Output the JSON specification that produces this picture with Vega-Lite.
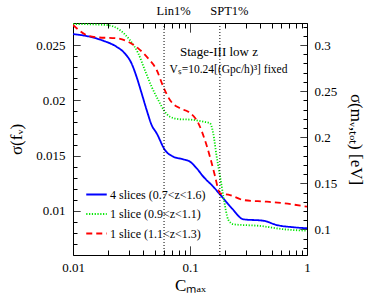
{
  "$schema": "https://vega.github.io/schema/vega-lite/v6.json",
  "width": 234,
  "height": 232,
  "autosize": {"type": "none"},
  "padding": {"left": 73, "top": 23, "right": 67, "bottom": 47},
  "background": "white",
  "config": {
    "view": {"stroke": "black", "strokeWidth": 1},
    "font": "Liberation Serif",
    "axis": {
      "domain": false,
      "grid": false,
      "tickColor": "black",
      "tickWidth": 1,
      "labelColor": "black",
      "labelFont": "Liberation Serif",
      "labelFontSize": 13,
      "titleColor": "black",
      "titleFont": "Liberation Serif",
      "titleFontWeight": "normal",
      "titleFontSize": 17,
      "labelFlush": false,
      "labelOverlap": false
    }
  },
  "datasets": {
    "curves": [
      {"series": "4 slices (0.7<z<1.6)", "C": 0.01, "f": 0.02599},
      {"series": "4 slices (0.7<z<1.6)", "C": 0.0139, "f": 0.02575},
      {"series": "4 slices (0.7<z<1.6)", "C": 0.0181, "f": 0.02539},
      {"series": "4 slices (0.7<z<1.6)", "C": 0.0235, "f": 0.02485},
      {"series": "4 slices (0.7<z<1.6)", "C": 0.0277, "f": 0.02425},
      {"series": "4 slices (0.7<z<1.6)", "C": 0.0316, "f": 0.02335},
      {"series": "4 slices (0.7<z<1.6)", "C": 0.0349, "f": 0.02214},
      {"series": "4 slices (0.7<z<1.6)", "C": 0.0386, "f": 0.02064},
      {"series": "4 slices (0.7<z<1.6)", "C": 0.0426, "f": 0.01913},
      {"series": "4 slices (0.7<z<1.6)", "C": 0.047, "f": 0.01777},
      {"series": "4 slices (0.7<z<1.6)", "C": 0.0519, "f": 0.01702},
      {"series": "4 slices (0.7<z<1.6)", "C": 0.0611, "f": 0.01551},
      {"series": "4 slices (0.7<z<1.6)", "C": 0.0719, "f": 0.01491},
      {"series": "4 slices (0.7<z<1.6)", "C": 0.0877, "f": 0.01467},
      {"series": "4 slices (0.7<z<1.6)", "C": 0.1, "f": 0.01446},
      {"series": "4 slices (0.7<z<1.6)", "C": 0.114, "f": 0.01386},
      {"series": "4 slices (0.7<z<1.6)", "C": 0.13, "f": 0.0131},
      {"series": "4 slices (0.7<z<1.6)", "C": 0.158, "f": 0.0122},
      {"series": "4 slices (0.7<z<1.6)", "C": 0.187, "f": 0.0113},
      {"series": "4 slices (0.7<z<1.6)", "C": 0.228, "f": 0.01024},
      {"series": "4 slices (0.7<z<1.6)", "C": 0.286, "f": 0.00925},
      {"series": "4 slices (0.7<z<1.6)", "C": 0.425, "f": 0.00912},
      {"series": "4 slices (0.7<z<1.6)", "C": 0.553, "f": 0.00873},
      {"series": "4 slices (0.7<z<1.6)", "C": 0.767, "f": 0.00853},
      {"series": "4 slices (0.7<z<1.6)", "C": 1.0, "f": 0.00844},
      {"series": "1 slice (0.9<z<1.1)", "C": 0.01, "f": 0.0269},
      {"series": "1 slice (0.9<z<1.1)", "C": 0.0193, "f": 0.02681},
      {"series": "1 slice (0.9<z<1.1)", "C": 0.0251, "f": 0.02636},
      {"series": "1 slice (0.9<z<1.1)", "C": 0.0306, "f": 0.02545},
      {"series": "1 slice (0.9<z<1.1)", "C": 0.0361, "f": 0.02425},
      {"series": "1 slice (0.9<z<1.1)", "C": 0.0411, "f": 0.02274},
      {"series": "1 slice (0.9<z<1.1)", "C": 0.047, "f": 0.02123},
      {"series": "1 slice (0.9<z<1.1)", "C": 0.0535, "f": 0.02003},
      {"series": "1 slice (0.9<z<1.1)", "C": 0.0611, "f": 0.01897},
      {"series": "1 slice (0.9<z<1.1)", "C": 0.0674, "f": 0.01852},
      {"series": "1 slice (0.9<z<1.1)", "C": 0.082, "f": 0.01829},
      {"series": "1 slice (0.9<z<1.1)", "C": 0.1, "f": 0.01826},
      {"series": "1 slice (0.9<z<1.1)", "C": 0.13, "f": 0.01807},
      {"series": "1 slice (0.9<z<1.1)", "C": 0.148, "f": 0.01793},
      {"series": "1 slice (0.9<z<1.1)", "C": 0.158, "f": 0.01702},
      {"series": "1 slice (0.9<z<1.1)", "C": 0.169, "f": 0.01491},
      {"series": "1 slice (0.9<z<1.1)", "C": 0.181, "f": 0.0131},
      {"series": "1 slice (0.9<z<1.1)", "C": 0.193, "f": 0.01129},
      {"series": "1 slice (0.9<z<1.1)", "C": 0.213, "f": 0.00919},
      {"series": "1 slice (0.9<z<1.1)", "C": 0.235, "f": 0.0088},
      {"series": "1 slice (0.9<z<1.1)", "C": 0.398, "f": 0.00865},
      {"series": "1 slice (0.9<z<1.1)", "C": 0.631, "f": 0.00835},
      {"series": "1 slice (0.9<z<1.1)", "C": 1.0, "f": 0.00822},
      {"series": "1 slice (1.1<z<1.3)", "C": 0.01, "f": 0.02681},
      {"series": "1 slice (1.1<z<1.3)", "C": 0.013, "f": 0.0259},
      {"series": "1 slice (1.1<z<1.3)", "C": 0.0158, "f": 0.0257},
      {"series": "1 slice (1.1<z<1.3)", "C": 0.0235, "f": 0.02561},
      {"series": "1 slice (1.1<z<1.3)", "C": 0.0296, "f": 0.0253},
      {"series": "1 slice (1.1<z<1.3)", "C": 0.0361, "f": 0.0247},
      {"series": "1 slice (1.1<z<1.3)", "C": 0.0439, "f": 0.02379},
      {"series": "1 slice (1.1<z<1.3)", "C": 0.0519, "f": 0.02274},
      {"series": "1 slice (1.1<z<1.3)", "C": 0.0591, "f": 0.02123},
      {"series": "1 slice (1.1<z<1.3)", "C": 0.0674, "f": 0.02003},
      {"series": "1 slice (1.1<z<1.3)", "C": 0.082, "f": 0.01928},
      {"series": "1 slice (1.1<z<1.3)", "C": 0.0967, "f": 0.01897},
      {"series": "1 slice (1.1<z<1.3)", "C": 0.118, "f": 0.01792},
      {"series": "1 slice (1.1<z<1.3)", "C": 0.134, "f": 0.01642},
      {"series": "1 slice (1.1<z<1.3)", "C": 0.148, "f": 0.01491},
      {"series": "1 slice (1.1<z<1.3)", "C": 0.164, "f": 0.0131},
      {"series": "1 slice (1.1<z<1.3)", "C": 0.175, "f": 0.0119},
      {"series": "1 slice (1.1<z<1.3)", "C": 0.181, "f": 0.0116},
      {"series": "1 slice (1.1<z<1.3)", "C": 0.22, "f": 0.01144},
      {"series": "1 slice (1.1<z<1.3)", "C": 0.286, "f": 0.01099},
      {"series": "1 slice (1.1<z<1.3)", "C": 0.454, "f": 0.01084},
      {"series": "1 slice (1.1<z<1.3)", "C": 0.631, "f": 0.0107},
      {"series": "1 slice (1.1<z<1.3)", "C": 1.0, "f": 0.01039}
    ],
    "refs": [
      {"name": "Lin1%", "C": 0.06},
      {"name": "SPT1%", "C": 0.18}
    ],
    "title1": [{"label": "Stage-III low z", "C": 0.177, "f": 0.02437}],
    "title2": [{"label": "Vₛ=10.24[(Gpc/h)³] fixed", "C": 0.213, "f": 0.02274}],
    "mnu": [{"m": 0.1}, {"m": 0.3}]
  },
  "layer": [
    {
      "data": {"name": "curves"},
      "mark": {"type": "line", "interpolate": "monotone", "strokeWidth": 1.8, "clip": true},
      "encoding": {
        "x": {
          "field": "C", "type": "quantitative",
          "scale": {"type": "log", "domain": [0.01, 1], "nice": false},
          "axis": {
            "orient": "bottom",
            "title": "Cₘₐₓ",
            "values": [0.01, 0.02, 0.03, 0.04, 0.05, 0.06, 0.07, 0.08, 0.09, 0.1, 0.2, 0.3, 0.4, 0.5, 0.6, 0.7, 0.8, 0.9, 1],
            "format": "~g",
            "labelExpr": "abs(log(datum.value)/LN10 - round(log(datum.value)/LN10)) < 1e-6 ? datum.label : ''",
            "tickSize": -9,
            "tickDash": {"condition": {"test": "abs(log(datum.value)/LN10 - round(log(datum.value)/LN10)) < 1e-6", "value": [1, 0]}, "value": [5, 20]},
            "labelPadding": 15,
            "titlePadding": 3
          }
        },
        "y": {
          "field": "f", "type": "quantitative",
          "scale": {"domain": [0.006024, 0.026988], "nice": false, "zero": false},
          "axis": {
            "orient": "left",
            "title": "σ(fᵥ)",
            "values": [0.006, 0.007, 0.008, 0.009, 0.01, 0.011, 0.012, 0.013, 0.014, 0.015, 0.016, 0.017, 0.018, 0.019, 0.02, 0.021, 0.022, 0.023, 0.024, 0.025, 0.026],
            "format": "~g",
            "labelExpr": "round(datum.value*1000) % 5 == 0 ? datum.label : ''",
            "tickSize": -7,
            "tickDash": {"condition": {"test": "round(datum.value*1000) % 5 == 0", "value": [1, 0]}, "value": [4, 20]},
            "labelPadding": 15,
            "titlePadding": 10
          }
        },
        "color": {
          "field": "series", "type": "nominal",
          "scale": {
            "domain": ["4 slices (0.7<z<1.6)", "1 slice (0.9<z<1.1)", "1 slice (1.1<z<1.3)"],
            "range": ["#0000ff", "#00e600", "#ff0000"]
          },
          "legend": {
            "orient": "none", "legendX": 12, "legendY": 160, "title": null,
            "symbolType": "stroke", "symbolSize": 420, "symbolStrokeWidth": 1.8,
            "labelFont": "Liberation Serif", "labelFontSize": 12, "labelColor": "black",
            "labelOffset": 2, "rowPadding": 1.5, "padding": 0
          }
        },
        "strokeDash": {
          "field": "series", "type": "nominal",
          "scale": {
            "domain": ["4 slices (0.7<z<1.6)", "1 slice (0.9<z<1.1)", "1 slice (1.1<z<1.3)"],
            "range": [[1, 0], [1.2, 1.6], [6, 4]]
          },
          "legend": {
            "orient": "none", "legendX": 12, "legendY": 160, "title": null,
            "symbolType": "stroke", "symbolSize": 420, "symbolStrokeWidth": 1.8,
            "labelFont": "Liberation Serif", "labelFontSize": 12, "labelColor": "black",
            "labelOffset": 2, "rowPadding": 1.5, "padding": 0
          }
        }
      }
    },
    {
      "data": {"name": "mnu"},
      "mark": {"type": "point", "opacity": 0},
      "encoding": {
        "y": {
          "field": "m", "type": "quantitative",
          "scale": {"domain": [0.07229, 0.32386], "nice": false, "zero": false},
          "axis": {
            "orient": "right",
            "title": "σ(mᵥ,ₜₒₜ) [eV]",
            "values": [0.08, 0.09, 0.1, 0.11, 0.12, 0.13, 0.14, 0.15, 0.16, 0.17, 0.18, 0.19, 0.2, 0.21, 0.22, 0.23, 0.24, 0.25, 0.26, 0.27, 0.28, 0.29, 0.3, 0.31, 0.32],
            "format": "~g",
            "labelExpr": "round(datum.value*100) % 5 == 0 ? datum.label : ''",
            "tickSize": -7,
            "tickDash": {"condition": {"test": "round(datum.value*100) % 5 == 0", "value": [1, 0]}, "value": [4, 20]},
            "labelPadding": 14,
            "titlePadding": 10
          }
        }
      }
    },
    {
      "data": {"name": "refs"},
      "mark": {"type": "rule", "color": "black", "strokeWidth": 1, "strokeDash": [1, 2]},
      "encoding": {
        "x": {
          "field": "C", "type": "quantitative",
          "axis": {
            "orient": "top",
            "title": null,
            "values": [0.01, 0.02, 0.03, 0.04, 0.05, 0.06, 0.07, 0.08, 0.09, 0.1, 0.18, 0.2, 0.3, 0.4, 0.5, 0.6, 0.7, 0.8, 0.9, 1],
            "labelExpr": "abs(datum.value-0.06) < 1e-9 ? 'Lin1%' : (abs(datum.value-0.18) < 1e-9 ? 'SPT1%' : '')",
            "tickSize": -9,
            "tickDash": {"condition": {"test": "abs(log(datum.value)/LN10 - round(log(datum.value)/LN10)) < 1e-6", "value": [1, 0]}, "value": [5, 20]},
            "tickOpacity": {"condition": {"test": "abs(datum.value-0.18) < 1e-9", "value": 0}, "value": 1},
            "labelFontSize": 12.5,
            "labelOffset": 9,
            "labelPadding": 15
          }
        }
      }
    },
    {
      "data": {"name": "title1"},
      "mark": {"type": "text", "font": "Liberation Serif", "fontSize": 13, "color": "black"},
      "encoding": {
        "x": {"field": "C", "type": "quantitative", "axis": null},
        "y": {"field": "f", "type": "quantitative", "axis": null, "scale": {"domain": [0.006024, 0.026988], "nice": false, "zero": false}},
        "text": {"field": "label"}
      }
    },
    {
      "data": {"name": "title2"},
      "mark": {"type": "text", "font": "Liberation Serif", "fontSize": 11.5, "color": "black"},
      "encoding": {
        "x": {"field": "C", "type": "quantitative", "axis": null},
        "y": {"field": "f", "type": "quantitative", "axis": null, "scale": {"domain": [0.006024, 0.026988], "nice": false, "zero": false}},
        "text": {"field": "label"}
      }
    }
  ],
  "resolve": {"scale": {"y": "independent"}, "axis": {"y": "independent"}}
}
